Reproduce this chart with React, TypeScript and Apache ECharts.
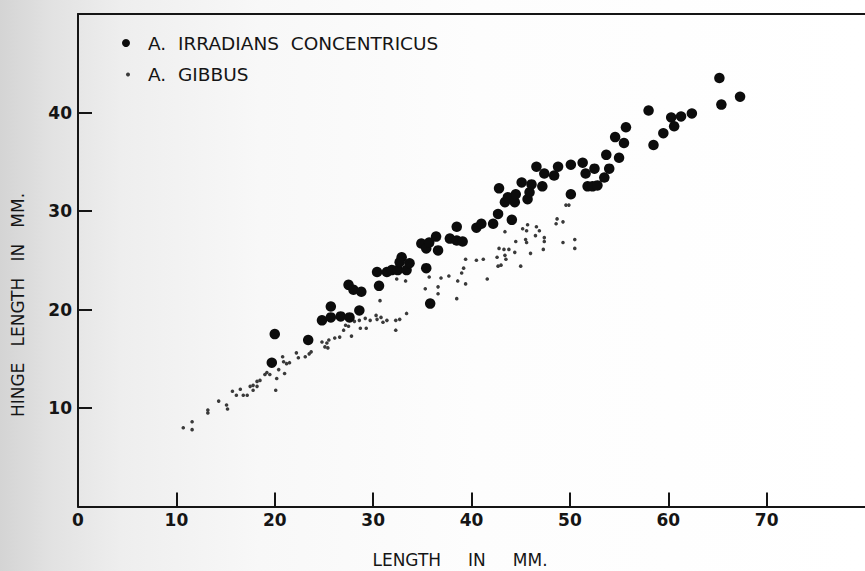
import React, { useEffect, useRef } from "react";
import * as echarts from "echarts";

const FONT = "DejaVu Sans";

const xTickValues = [0, 10, 20, 30, 40, 50, 60, 70];
const yTickValues = [10, 20, 30, 40];

const seriesNames = ["A.  IRRADIANS  CONCENTRICUS", "A.  GIBBUS"];

const irradians: number[][] = [
  [19.7, 14.6], [20.0, 17.5], [23.4, 16.9], [24.8, 18.9], [25.7, 20.3], [25.7, 19.2],
  [26.7, 19.3], [27.6, 19.2], [28.6, 19.9], [27.5, 22.5], [28.0, 22.0], [28.8, 21.8],
  [30.4, 23.8], [30.6, 22.4], [31.4, 23.8], [31.9, 24.0], [32.5, 24.0], [32.9, 25.3],
  [32.7, 24.8], [33.4, 24.0], [33.7, 24.7], [35.4, 24.2], [35.8, 20.6], [34.9, 26.7],
  [35.4, 26.2], [35.7, 26.8], [36.4, 27.4], [36.6, 26.0], [37.8, 27.2], [38.5, 28.4],
  [38.5, 27.0], [39.1, 26.9], [40.5, 28.3], [41.0, 28.7], [42.2, 28.7], [42.7, 29.7],
  [44.1, 29.1], [43.4, 30.9], [43.7, 31.4], [44.4, 30.9], [42.8, 32.3], [44.5, 31.7],
  [45.1, 32.9], [45.7, 31.2], [45.9, 31.9], [46.1, 32.7], [46.6, 34.5], [47.2, 32.5],
  [47.4, 33.8], [48.4, 33.6], [48.8, 34.5], [50.1, 34.7], [50.1, 31.7], [51.3, 34.9],
  [51.6, 33.8], [51.8, 32.5], [52.5, 34.3], [52.3, 32.5], [52.8, 32.6], [53.5, 33.4],
  [54.0, 34.3], [53.7, 35.7], [55.0, 35.4], [54.6, 37.5], [55.5, 36.9], [55.7, 38.5],
  [58.0, 40.2], [58.5, 36.7], [59.5, 37.9], [60.3, 39.5], [60.6, 38.6], [61.3, 39.6],
  [62.4, 39.9], [65.2, 43.5], [65.4, 40.8], [67.3, 41.6],
];

const gibbus: number[][] = [
  [10.7, 8.0], [11.6, 8.6], [11.6, 7.8], [13.2, 9.8], [13.2, 9.5], [14.3, 10.7],
  [15.1, 10.3], [15.2, 9.9], [15.7, 11.7], [16.1, 11.3], [16.5, 11.9], [16.8, 11.3],
  [17.2, 11.3], [17.5, 12.2], [17.8, 12.3], [17.8, 11.8], [18.2, 12.7], [18.2, 12.2],
  [18.5, 12.8], [19.0, 13.4], [19.2, 13.6], [19.5, 13.4], [20.2, 13.0], [20.1, 11.8],
  [20.4, 13.9], [20.9, 14.7], [20.8, 15.2], [21.0, 13.5], [21.2, 14.5], [21.5, 14.6],
  [22.2, 15.6], [22.4, 15.1], [23.1, 15.2], [23.5, 15.5], [23.7, 15.7], [24.8, 16.7],
  [25.3, 16.6], [25.1, 16.2], [25.5, 16.9], [25.4, 16.1], [26.1, 17.1], [26.6, 17.2],
  [27.0, 17.9], [27.2, 18.4], [27.5, 18.3], [27.8, 17.3], [28.1, 18.8], [28.6, 18.9],
  [28.7, 18.1], [29.2, 19.1], [29.3, 18.1], [29.7, 18.9], [30.3, 19.4], [30.4, 19.0],
  [30.7, 20.9], [30.8, 19.2], [31.0, 18.7], [31.4, 18.9], [32.3, 18.9], [32.7, 19.0],
  [32.3, 17.9], [33.4, 19.6], [32.4, 23.1], [33.3, 22.9], [35.3, 22.1], [35.7, 23.3],
  [36.6, 22.3], [36.6, 21.6], [36.9, 23.2], [37.7, 23.4], [38.5, 21.1], [38.6, 22.9],
  [39.0, 23.7], [39.2, 24.2], [39.4, 25.1], [39.4, 22.6], [40.5, 25.0], [41.2, 25.1],
  [41.6, 23.1], [42.6, 25.3], [42.7, 24.4], [43.0, 24.5], [42.8, 26.2], [43.3, 26.1],
  [43.8, 26.1], [44.4, 25.8], [43.4, 25.5], [43.5, 25.1], [43.4, 27.9], [44.5, 26.9],
  [45.0, 24.4], [45.2, 28.2], [45.7, 28.6], [45.6, 28.0], [45.5, 27.1], [45.6, 26.8],
  [46.0, 25.7], [46.6, 28.4], [46.9, 28.0], [46.5, 27.5], [47.4, 27.3], [47.4, 26.9],
  [47.3, 26.1], [48.7, 29.2], [49.3, 28.9], [48.6, 28.7], [49.3, 26.8], [50.5, 27.1],
  [50.5, 26.2], [49.6, 30.6], [49.9, 30.6],
];

export default function App() {
  const ref = useRef<HTMLDivElement>(null);

  useEffect(() => {
    if (!ref.current) return;
    const chart = echarts.init(ref.current, null, { renderer: "svg" });
    const ink = "#151515";
    const tickLabel = {
      fontFamily: FONT,
      fontSize: 17,
      fontWeight: "bold" as const,
      color: ink,
    };
    chart.setOption({
      animation: false,
      backgroundColor: "#ffffff",
      textStyle: { fontFamily: FONT, color: ink },
      graphic: [
        {
          type: "rect",
          z: -100,
          silent: true,
          shape: { x: 0, y: 0, width: 865, height: 571 },
          style: {
            fill: new echarts.graphic.LinearGradient(0, 0, 1, 0, [
              { offset: 0, color: "#d4d4d4" },
              { offset: 0.06, color: "#e2e2e2" },
              { offset: 0.14, color: "#eeeeee" },
              { offset: 0.3, color: "#f8f8f8" },
              { offset: 0.55, color: "#fdfdfd" },
              { offset: 1, color: "#ffffff" },
            ]),
          },
        },
        {
          type: "text",
          x: 18,
          y: 305,
          rotation: Math.PI / 2,
          silent: true,
          style: {
            text: "HINGE\u00a0\u00a0\u00a0LENGTH\u00a0\u00a0\u00a0IN\u00a0\u00a0\u00a0MM.",
            fontFamily: FONT,
            fontSize: 17,
            fill: ink,
            align: "center",
            verticalAlign: "middle",
          },
        },
        {
          type: "text",
          x: 460,
          y: 560,
          silent: true,
          style: {
            text: "LENGTH\u00a0\u00a0\u00a0\u00a0\u00a0IN\u00a0\u00a0\u00a0\u00a0\u00a0MM.",
            fontFamily: FONT,
            fontSize: 17,
            fill: ink,
            align: "center",
            verticalAlign: "middle",
          },
        },
      ],
      legend: [
        {
          data: [seriesNames[0]],
          left: 122,
          top: 33.5,
          orient: "vertical",
          padding: 0,
          itemWidth: 8,
          itemHeight: 8,
          icon: "circle",
          textStyle: { fontFamily: FONT, fontSize: 18.5, color: ink, padding: [0, 0, 0, 13] },
        },
        {
          data: [seriesNames[1]],
          left: 126,
          top: 65,
          orient: "vertical",
          padding: 0,
          itemWidth: 4,
          itemHeight: 4,
          icon: "circle",
          textStyle: { fontFamily: FONT, fontSize: 18.5, color: ink, padding: [0, 0, 0, 13] },
        },
      ],
      grid: {
        left: 78,
        right: -2,
        top: 14,
        bottom: 64.5,
        show: false,
      },
      xAxis: [
        {
          type: "value",
          min: 0,
          max: 80,
          interval: 10,
          axisLine: { show: true, lineStyle: { color: ink, width: 2 } },
          axisTick: {
            show: true,
            inside: true,
            length: 14,
            customValues: xTickValues,
            lineStyle: { color: ink, width: 2 },
          },
          splitLine: { show: false },
          axisLabel: {
            margin: 5,
            ...tickLabel,
            customValues: xTickValues,
            formatter: (v: number) => (xTickValues.includes(v) ? String(v) : ""),
          },
        },
        {
          type: "value",
          position: "top",
          min: 0,
          max: 80,
          interval: 10,
          axisLine: { show: true, lineStyle: { color: ink, width: 2 } },
          axisTick: { show: false },
          axisLabel: { show: false },
          splitLine: { show: false },
        },
      ],
      yAxis: {
        type: "value",
        min: 0,
        max: 50,
        interval: 10,
        axisLine: { show: true, lineStyle: { color: ink, width: 2 } },
        axisTick: {
          show: true,
          inside: true,
          length: 14,
          customValues: yTickValues,
          lineStyle: { color: ink, width: 2 },
        },
        splitLine: { show: false },
        axisLabel: {
          margin: 6,
          ...tickLabel,
          customValues: yTickValues,
          formatter: (v: number) => (yTickValues.includes(v) ? String(v) : ""),
        },
      },
      series: [
        {
          name: seriesNames[0],
          type: "scatter",
          data: irradians,
          symbol: "circle",
          symbolSize: 10.5,
          itemStyle: { color: "#0c0c0c", opacity: 1 },
          z: 3,
        },
        {
          name: seriesNames[1],
          type: "scatter",
          data: gibbus,
          symbol: "circle",
          symbolSize: 3.6,
          itemStyle: { color: "#3a3a3a", opacity: 1 },
          z: 2,
        },
      ],
    });
    return () => chart.dispose();
  }, []);

  return (
    <div
      ref={ref}
      style={{ position: "fixed", left: 0, top: 0, width: 865, height: 571 }}
    />
  );
}
